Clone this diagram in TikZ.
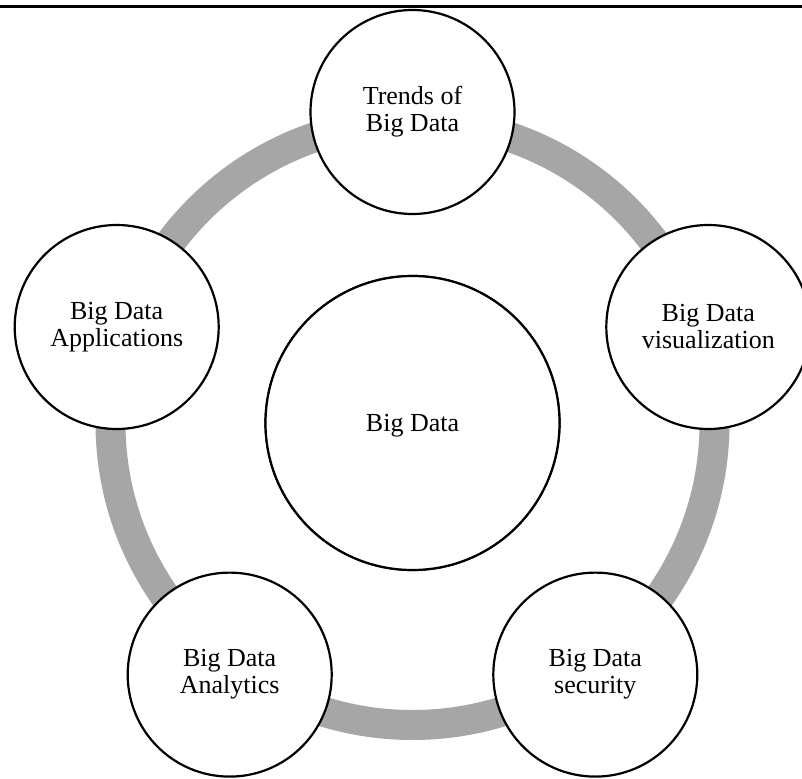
\documentclass[tikz,border=0pt]{standalone}
\usepackage{fontspec}
\setmainfont{Liberation Serif}
\begin{document}
\begin{tikzpicture}[x=1pt,y=-1pt,
  topic/.style={circle,draw=black,line width=2.2pt,fill=white,
    minimum size=204pt,inner sep=0pt,align=center,
    font=\fontsize{26}{27}\selectfont},
  hub/.style={topic,minimum size=294pt,text depth=0pt},
  ring/.style={draw=black!35,line width=30pt},
  rule/.style={line width=3.3pt}]
  \useasboundingbox (0,0) rectangle (802,778);
  % rule along the top edge
  \coordinate (ruleL) at (0,6.7);
  \coordinate (ruleR) at (802,6.7);
  \draw[rule] (ruleL) -- (ruleR);
  % central topic
  \node[hub] (core) at (412.5,423) {Big Data};
  % grey ring linking the surrounding topics
  \draw[ring] (core.center) circle[radius=302];
  % surrounding topics, one every 72 degrees
  \node[topic] (trends) at (412.5,112) {Trends of\\Big Data};
  \node[topic] (vis)    at (708.3,327) {Big Data\\visualization};
  \node[topic] (sec)    at (595.3,674.6) {Big Data\\security};
  \node[topic] (ana)    at (229.7,674.6) {Big Data\\Analytics};
  \node[topic] (app)    at (116.7,327) {Big Data\\Applications};
  % redraw the hub on top of the ring
  \node[hub] at (core) {Big Data};
\end{tikzpicture}
\end{document}
